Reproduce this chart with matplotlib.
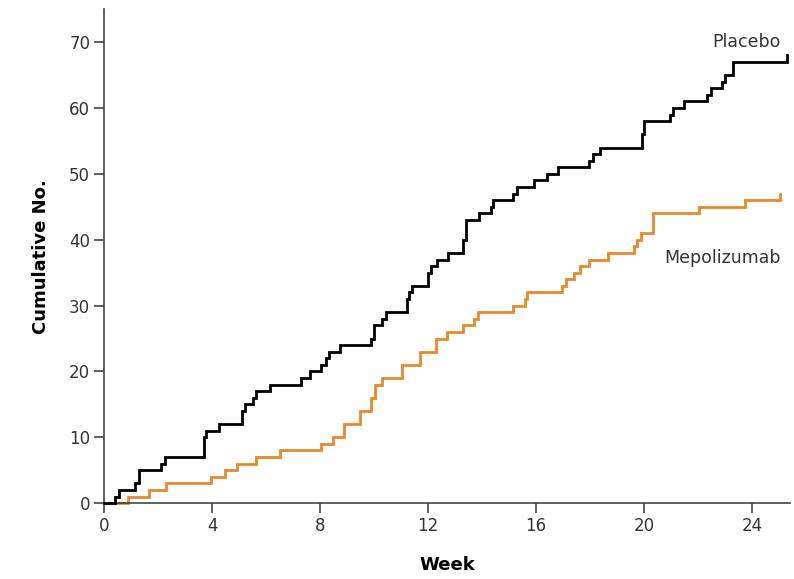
import matplotlib.pyplot as plt

# step times (weeks) and cumulative counts after each step
placebo_weeks = [0, 0.39, 0.54, 1.15, 1.29, 2.12, 2.24, 3.69, 3.78, 4.24, 5.10, 5.22, 5.51,
                 5.63, 6.15, 7.30, 7.63, 8.04, 8.22, 8.32, 8.72, 9.87, 10.01, 10.28, 10.44,
                 11.21, 11.31, 11.41, 12.01, 12.10, 12.32, 12.74, 13.28, 13.40, 13.87, 14.33,
                 14.40, 15.13, 15.28, 15.93, 16.39, 16.82, 17.94, 18.09, 18.38, 19.92, 20.00,
                 20.95, 21.05, 21.48, 22.31, 22.47, 22.88, 23.00, 23.30, 25.30]
placebo_counts = [0, 1, 2, 3, 5, 6, 7, 10, 11, 12, 14, 15, 16,
                  17, 18, 19, 20, 21, 22, 23, 24, 25, 27, 28, 29,
                  31, 32, 33, 35, 36, 37, 38, 40, 43, 44, 45,
                  46, 47, 48, 49, 50, 51, 52, 53, 54, 56, 58,
                  59, 60, 61, 62, 63, 64, 65, 67, 68]

mepo_weeks = [0, 0.88, 1.66, 2.28, 3.97, 4.48, 4.93, 5.63, 6.50, 8.04, 8.47, 8.90, 9.46,
              9.89, 10.03, 10.28, 11.03, 11.70, 12.29, 12.70, 13.28, 13.70, 13.86, 15.13,
              15.59, 15.65, 16.96, 17.10, 17.39, 17.64, 17.97, 18.65, 19.63, 19.72, 19.88,
              20.31, 22.04, 23.74, 25.04]
mepo_counts = [0, 1, 2, 3, 4, 5, 6, 7, 8, 9, 10, 12, 14,
               16, 18, 19, 21, 23, 25, 26, 27, 28, 29, 30,
               31, 32, 33, 34, 35, 36, 37, 38, 39, 40, 41,
               44, 45, 46, 47]

x_ticks = [0, 4, 8, 12, 16, 20, 24]
y_ticks = [0, 10, 20, 30, 40, 50, 60, 70]

txt = '#333333'
orange = '#E8892A'

fig = plt.figure(figsize=(7.94, 5.79), dpi=100)
ax = fig.add_axes([0.131, 0.131, 0.864, 0.853])

ax.step(placebo_weeks, placebo_counts, where='post', color='black', lw=2.0,
        solid_joinstyle='miter', clip_on=False, zorder=3)
ax.step(mepo_weeks, mepo_counts, where='post', color=orange, lw=2.0,
        solid_joinstyle='miter', clip_on=False, zorder=2)

ax.set_xlim(0, 25.4)
ax.set_ylim(0, 75)
ax.set_xticks(x_ticks)
ax.set_yticks(y_ticks)

for s in ['top', 'right']:
    ax.spines[s].set_visible(False)
for s in ['left', 'bottom']:
    ax.spines[s].set_color('#444444')
    ax.spines[s].set_linewidth(1.2)

ax.tick_params(direction='out', length=7, width=1.2, color='#444444',
               labelsize=12, labelcolor=txt, pad=3)

ax.set_xlabel('Week', fontsize=13, fontweight='bold', color='black', labelpad=15)
ax.set_ylabel('Cumulative No.', fontsize=13, fontweight='bold', color='black', labelpad=14)

ax.text(25.07, 70, 'Placebo', ha='right', va='center', fontsize=12.5, color=txt)
ax.text(25.07, 37.2, 'Mepolizumab', ha='right', va='center', fontsize=12.5, color=txt)

fig.savefig('out.png', dpi=100)
